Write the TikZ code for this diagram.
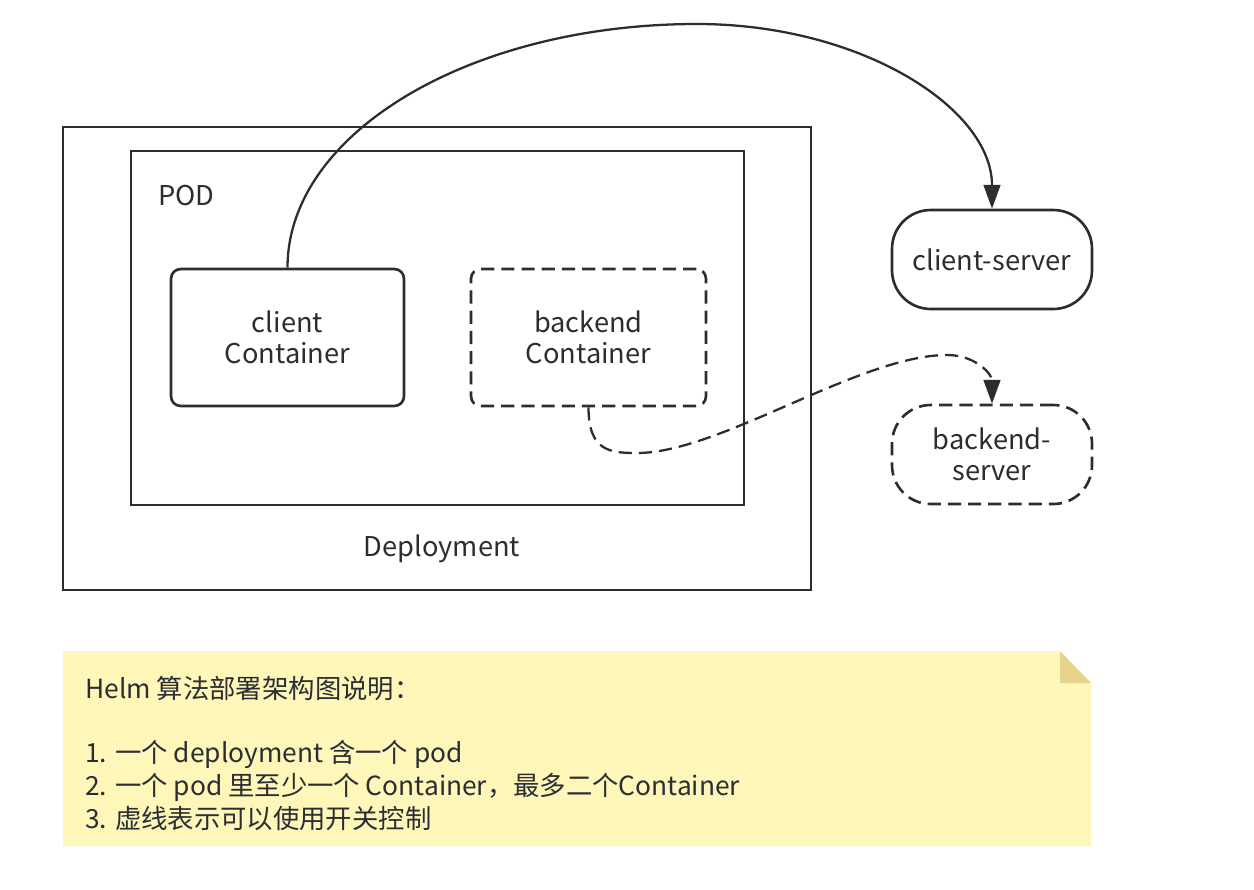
\documentclass[tikz,border=0pt]{standalone}
\usepackage{fontspec}
\setmainfont{Noto Sans CJK SC}
\usetikzlibrary{arrows.meta}
\definecolor{ink}{HTML}{2A2E33}
\definecolor{notefill}{HTML}{FFF6BA}
\definecolor{notefold}{HTML}{E8D38C}
\tikzset{
	txt/.style={text=ink, inner sep=0pt, font=\fontsize{15.5}{18}\selectfont},
	notetxt/.style={txt, anchor=base west, font=\fontsize{15}{18}\selectfont},
	frame/.style={draw=ink, line width=1.3pt, inner sep=0pt},
	box/.style={txt, draw=ink, line width=1.5pt, rounded corners=5.5pt, align=center},
	dashbox/.style={box, dash pattern=on 7.5pt off 4pt},
	serverbox/.style={box, rounded corners=22pt, minimum width=4cm, minimum height=1.98cm},
	link/.style={draw=ink, line width=1.3pt, -{Triangle[length=13.5pt,width=9.5pt]}}
}
\begin{document}
\begin{tikzpicture}[x=0.02cm, y=-0.02cm]
	\useasboundingbox (0,0) rectangle (1254,889);
	% deployment and pod
	\node[frame, minimum width=14.96cm, minimum height=9.26cm] (deploy) at (437,358.5) {};
	\node[frame, minimum width=12.26cm, minimum height=7.08cm] (pod) at (437.5,328) {};
	\node[txt] (deploylbl) at (442,549) {Deployment};
	\node[txt, anchor=west] (podlbl) at (158,196) {POD};
	% containers
	\node[box, minimum width=4.66cm, minimum height=2.74cm] (cc) at (287.5,337.5) {client\\Container};
	\node[dashbox, minimum width=4.7cm, minimum height=2.74cm] (bc) at (588.5,337.5) {backend\\Container};
	% servers
	\node[serverbox] (cs) at (992,259.5) {client-server};
	\node[serverbox, dash pattern=on 7.5pt off 4pt] (bs) at (992,454.5) {backend-\\server};
	% connectors
	\coordinate (top) at (697,24);
	\coordinate (low) at (637,453);
	\coordinate (hump) at (947,355);
	\draw[link] (cc.north) .. controls +(0,-135) and +(-226,0) .. (top)
		.. controls +(163,0) and +(0,-101) .. (cs.north);
	\draw[link, dash pattern=on 7.5pt off 4pt] (bc.south) .. controls +(0,44) and +(-27,0) .. (low)
		.. controls +(83,0) and +(-87,0) .. (hump)
		.. controls +(28,0) and +(0,-30) .. (bs.north);
	% note
	\fill[notefill] (63,651) -- (1060,651) -- (1091,683) -- (1091,846) -- (63,846) -- cycle;
	\fill[notefold] (1060,651) -- (1060,683) -- (1091,683) -- cycle;
	\node[notetxt] (l0) at (85,698) {Helm 算法部署架构图说明：};
	\node[notetxt] (l1) at (85,762) {1. 一个 deployment 含一个 pod};
	\node[notetxt] (l2) at (85,795) {2. 一个 pod 里至少一个 Container，最多二个Container};
	\node[notetxt] (l3) at (85,828) {3. 虚线表示可以使用开关控制};
\end{tikzpicture}
\end{document}
